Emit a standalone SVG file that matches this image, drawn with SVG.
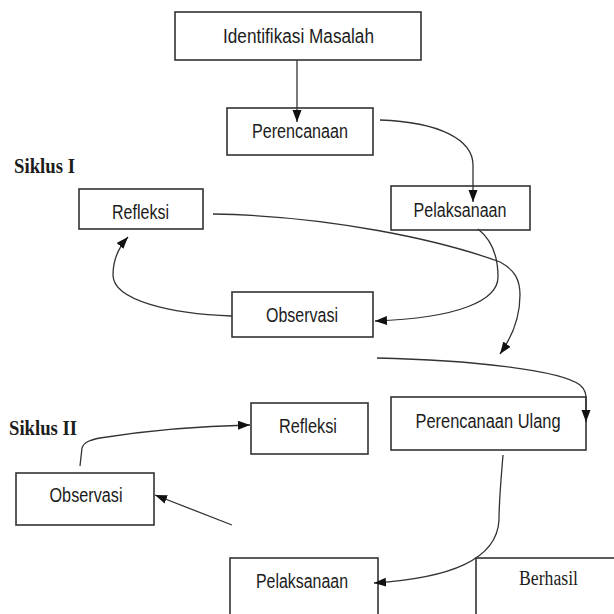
<svg xmlns="http://www.w3.org/2000/svg" width="614" height="614" viewBox="0 0 614 614">
<style>
.box{fill:#fff;stroke:#333;stroke-width:1.6}
.t{font-family:"Liberation Sans","Noto Sans",sans-serif;font-size:20px;fill:#1c1c1c;text-anchor:middle}
.s{font-family:"Liberation Serif","DejaVu Serif",serif;font-size:21px;font-weight:bold;fill:#1c1c1c}
.sr{font-family:"Liberation Serif","DejaVu Serif",serif;font-size:20px;fill:#1c1c1c;text-anchor:middle}
.c{fill:none;stroke:#333;stroke-width:1.3}
</style>
<defs>
<marker id="ah" markerUnits="userSpaceOnUse" markerWidth="13" markerHeight="10" refX="12" refY="4.5" orient="auto">
<path d="M0,0 L12,4.5 L0,9 z" fill="#111"/>
</marker>
</defs>
<rect width="614" height="614" fill="#fff"/>
<text class="s" x="14" y="173" textLength="61" lengthAdjust="spacingAndGlyphs">Siklus I</text>
<text class="s" x="9" y="435" textLength="68" lengthAdjust="spacingAndGlyphs">Siklus II</text>
<g id="identifikasi"><rect class="box" x="175" y="12" width="246" height="48"/><text class="t" x="298.5" y="43" textLength="151" lengthAdjust="spacingAndGlyphs">Identifikasi Masalah</text></g>
<g id="perencanaan"><rect class="box" x="227" y="108" width="146" height="47"/><text class="t" x="300" y="138" textLength="96" lengthAdjust="spacingAndGlyphs">Perencanaan</text></g>
<g id="pelaksanaan1"><rect class="box" x="391" y="186" width="139" height="44"/><text class="t" x="460" y="217" textLength="93" lengthAdjust="spacingAndGlyphs">Pelaksanaan</text></g>
<g id="refleksi1"><rect class="box" x="79" y="189" width="124" height="40"/><text class="t" x="140.5" y="219" textLength="57" lengthAdjust="spacingAndGlyphs">Refleksi</text></g>
<g id="observasi1"><rect class="box" x="232" y="292" width="141" height="45"/><text class="t" x="302" y="322" textLength="72" lengthAdjust="spacingAndGlyphs">Observasi</text></g>
<g id="perencanaan-ulang"><rect class="box" x="391" y="397" width="195" height="53"/><text class="t" x="488" y="428" textLength="145" lengthAdjust="spacingAndGlyphs">Perencanaan Ulang</text></g>
<g id="refleksi2"><rect class="box" x="251" y="403" width="117" height="51"/><text class="t" x="308" y="433" textLength="58" lengthAdjust="spacingAndGlyphs">Refleksi</text></g>
<g id="observasi2"><rect class="box" x="16" y="473" width="138" height="52"/><text class="t" x="86" y="502" textLength="73" lengthAdjust="spacingAndGlyphs">Observasi</text></g>
<g id="pelaksanaan2"><rect class="box" x="230" y="558" width="148" height="62"/><text class="t" x="302" y="588" textLength="92" lengthAdjust="spacingAndGlyphs">Pelaksanaan</text></g>
<g id="berhasil"><rect class="box" x="476" y="558" width="145" height="62"/><text class="sr" x="548.5" y="585" textLength="59" lengthAdjust="spacingAndGlyphs">Berhasil</text></g>
<g id="connectors">
<path class="c" marker-end="url(#ah)" d="M297,60 L297,122"/>
<path class="c" marker-end="url(#ah)" d="M380,120 C440,122 473,140 473,165 L473,202"/>
<path class="c" marker-end="url(#ah)" d="M478,229 C492,240 498,255 498,277 C498,300 460,318 375,321"/>
<path class="c" marker-end="url(#ah)" d="M232,316 C170,314 113,300 113,275 C113,262 118,248 128,237"/>
<path class="c" marker-end="url(#ah)" d="M213,214 C330,216 440,240 500,262 C515,270 520,280 520,295 C520,320 510,340 500,354"/>
<path class="c" marker-end="url(#ah)" d="M377,358 C470,360 560,370 580,385 C586,390 586,395 586,400 L586,422"/>
<path class="c" marker-end="url(#ah)" d="M503,455 C501,480 499,500 499,520 C497,560 450,578 374,583"/>
<path class="c" marker-end="url(#ah)" d="M232,525 L155,495"/>
<path class="c" marker-end="url(#ah)" d="M80,466 L82,448 C84,442 90,440 100,438 C150,430 200,426 250,425"/>
</g>
</svg>
